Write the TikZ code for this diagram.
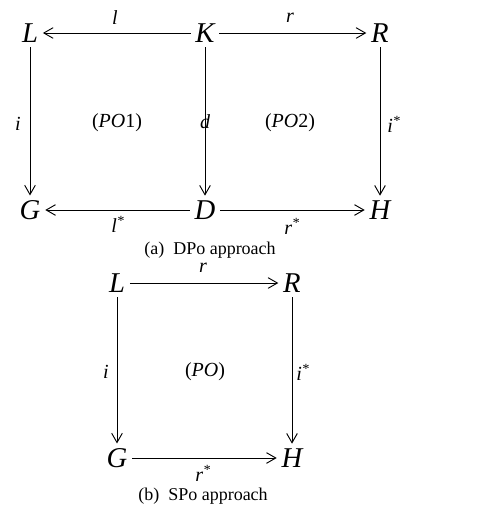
\documentclass[tikz,border=0pt]{standalone}
\usepackage{fontspec}
\setmainfont{Liberation Serif}
\usetikzlibrary{arrows.meta}

\begin{document}
\begin{tikzpicture}[x=0.75pt,y=-0.75pt,
    obj/.style={font=\fontsize{21.5}{24}\selectfont\itshape, inner sep=3.5pt},
    lbl/.style={font=\fontsize{15}{17}\selectfont\itshape, inner sep=1pt},
    captxt/.style={font=\fontsize{13.5}{15}\selectfont},
    map/.style={-{Straight Barb[length=7pt,width=8pt]}, line width=0.7pt}]
    \useasboundingbox (0,0) rectangle (497,508);

    % (a) DPo approach
    \node[obj] (L1) at (30,33) {L};
    \node[obj] (K) at (205,33) {K};
    \node[obj] (R1) at (380,33) {R};
    \node[obj] (G1) at (30,210) {G};
    \node[obj] (D) at (205,210) {D};
    \node[obj] (H1) at (380,210) {H};

    \draw[map] (K) -- (L1);
    \draw[map] (K) -- (R1);
    \draw[map] (L1) -- (G1);
    \draw[map] (K) -- (D);
    \draw[map] (R1) -- (H1);
    \draw[map] (D) -- (G1);
    \draw[map] (D) -- (H1);

    \node[lbl] (l1) at (115,18) {l};
    \node[lbl] (r1) at (290,18) {r};
    \node[lbl] (i1) at (18,124) {i};
    \node[lbl] (d1) at (205,122) {d};
    \node[lbl] (is1) at (394,124) {i\textsuperscript{*}};
    \node[lbl] (ls1) at (118,224) {l\textsuperscript{*}};
    \node[lbl] (rs1) at (292,226) {r\textsuperscript{*}};
    \node[lbl] (po1) at (117,123) {\upshape(\itshape PO\upshape 1)};
    \node[lbl] (po2) at (290,123) {\upshape(\itshape PO\upshape 2)};
    \node[captxt] (capa) at (210,250) {(a)\ \ DPo approach};

    % (b) SPo approach
    \node[obj] (L2) at (117,283) {L};
    \node[obj] (R2) at (292,283) {R};
    \node[obj] (G2) at (117,458) {G};
    \node[obj] (H2) at (292,458) {H};

    \draw[map] (L2) -- (R2);
    \draw[map] (L2) -- (G2);
    \draw[map] (R2) -- (H2);
    \draw[map] (G2) -- (H2);

    \node[lbl] (r2) at (203,268) {r};
    \node[lbl] (i2) at (106,372) {i};
    \node[lbl] (is2) at (303,372) {i\textsuperscript{*}};
    \node[lbl] (po) at (205,372) {\upshape(\itshape PO\upshape)};
    \node[lbl] (rs2) at (203,473) {r\textsuperscript{*}};
    \node[captxt] (capb) at (203,496) {(b)\ \ SPo approach};
\end{tikzpicture}
\end{document}
